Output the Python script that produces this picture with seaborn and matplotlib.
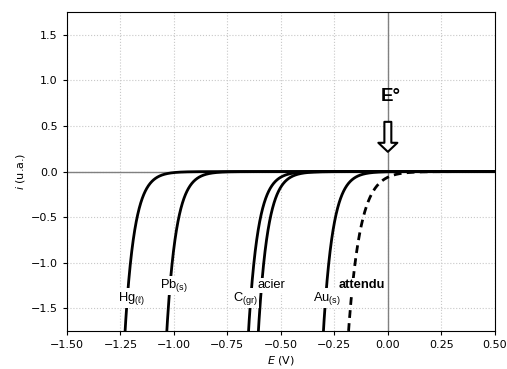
import numpy as np
import pandas as pd
import matplotlib
matplotlib.use("Agg")
import matplotlib.pyplot as plt
import seaborn as sns

# Cathodic branches (Tafel law): i = -exp((E_ref - E) / b)
electrodes = ["Hg", "Pb", "C", "acier", "Au", "attendu"]
labels = [r"Hg$_{\mathregular{(\ell)}}$", r"Pb$_{\mathregular{(s)}}$", r"C$_{\mathregular{(gr)}}$",
          "acier", r"Au$_{\mathregular{(s)}}$", "attendu"]
E_ref = [-1.203, -1.008, -0.626, -0.580, -0.276, -0.153]   # potential (V) where i = -1 u.a.
tafel_b = [0.045, 0.045, 0.045, 0.045, 0.045, 0.055]       # V
styles = ["-", "-", "-", "-", "-", (0, (2.8, 1.9))]

# label anchor points (E, i)
label_E = [-1.196, -0.999, -0.667, -0.542, -0.285, -0.121]
label_i = [-1.39, -1.25, -1.39, -1.25, -1.39, -1.25]
label_bold = [False, False, False, False, False, True]

E_standard = 0.0

plt.rcParams["font.family"] = ["DejaVu Sans"]
plt.rcParams["mathtext.fontset"] = "dejavusans"
plt.rcParams["font.size"] = 8
plt.rcParams["xtick.labelsize"] = 8
plt.rcParams["ytick.labelsize"] = 8
plt.rcParams["xtick.major.size"] = 3
plt.rcParams["ytick.major.size"] = 3
plt.rcParams["axes.labelpad"] = 3

fig, ax = plt.subplots(figsize=(5.07, 3.69), dpi=100)
fig.subplots_adjust(left=0.132, right=0.976, bottom=0.103, top=0.967)

E = np.linspace(-1.5, 0.5, 2001)
ax.axhline(0, color="gray", lw=1.0, zorder=1)
ax.axvline(E_standard, color="gray", lw=1.0, zorder=1)

for name, e0, b, ls in zip(electrodes, E_ref, tafel_b, styles):
    i = -np.exp((e0 - E) / b)
    i = np.clip(i, -5, None)
    df = pd.DataFrame({"E": E, "i": i})
    sns.lineplot(data=df, x="E", y="i", ax=ax, color="black", lw=2.0,
                 linestyle=ls, zorder=3)

for txt, x, y, bold in zip(labels, label_E, label_i, label_bold):
    ax.text(x, y, txt, ha="center", va="center", fontsize=9.3,
            family=["Liberation Sans", "DejaVu Sans"],
            fontweight="bold" if bold else "normal",
            bbox=dict(facecolor="white", edgecolor="none", pad=1.0), zorder=4)

# standard potential marker
ax.annotate("", xy=(E_standard, 0.217), xytext=(E_standard, 0.546),
            arrowprops=dict(arrowstyle="simple,head_length=0.65,head_width=1.37,tail_width=0.5",
                            mutation_scale=10, fc="white", ec="black", lw=1.5,
                            shrinkA=0, shrinkB=0), zorder=5)
ax.text(E_standard + 0.015, 0.82, "E°", ha="center", va="center", fontsize=13.5,
        fontweight="bold", family=["Liberation Sans", "DejaVu Sans"], zorder=5)

ax.set_xlim(-1.5, 0.5)
ax.set_ylim(-1.75, 1.75)
ax.set_xticks(np.arange(-1.5, 0.51, 0.25))
ax.set_yticks(np.arange(-1.5, 1.51, 0.5))
ax.grid(True, linestyle=":", color="#c8c8c8", lw=0.8)
ax.set_axisbelow(True)
ax.set_xlabel(r"$E$ (V)")
ax.set_ylabel(r"$i$ (u.a.)")

fig.savefig("out.png", dpi=100)
